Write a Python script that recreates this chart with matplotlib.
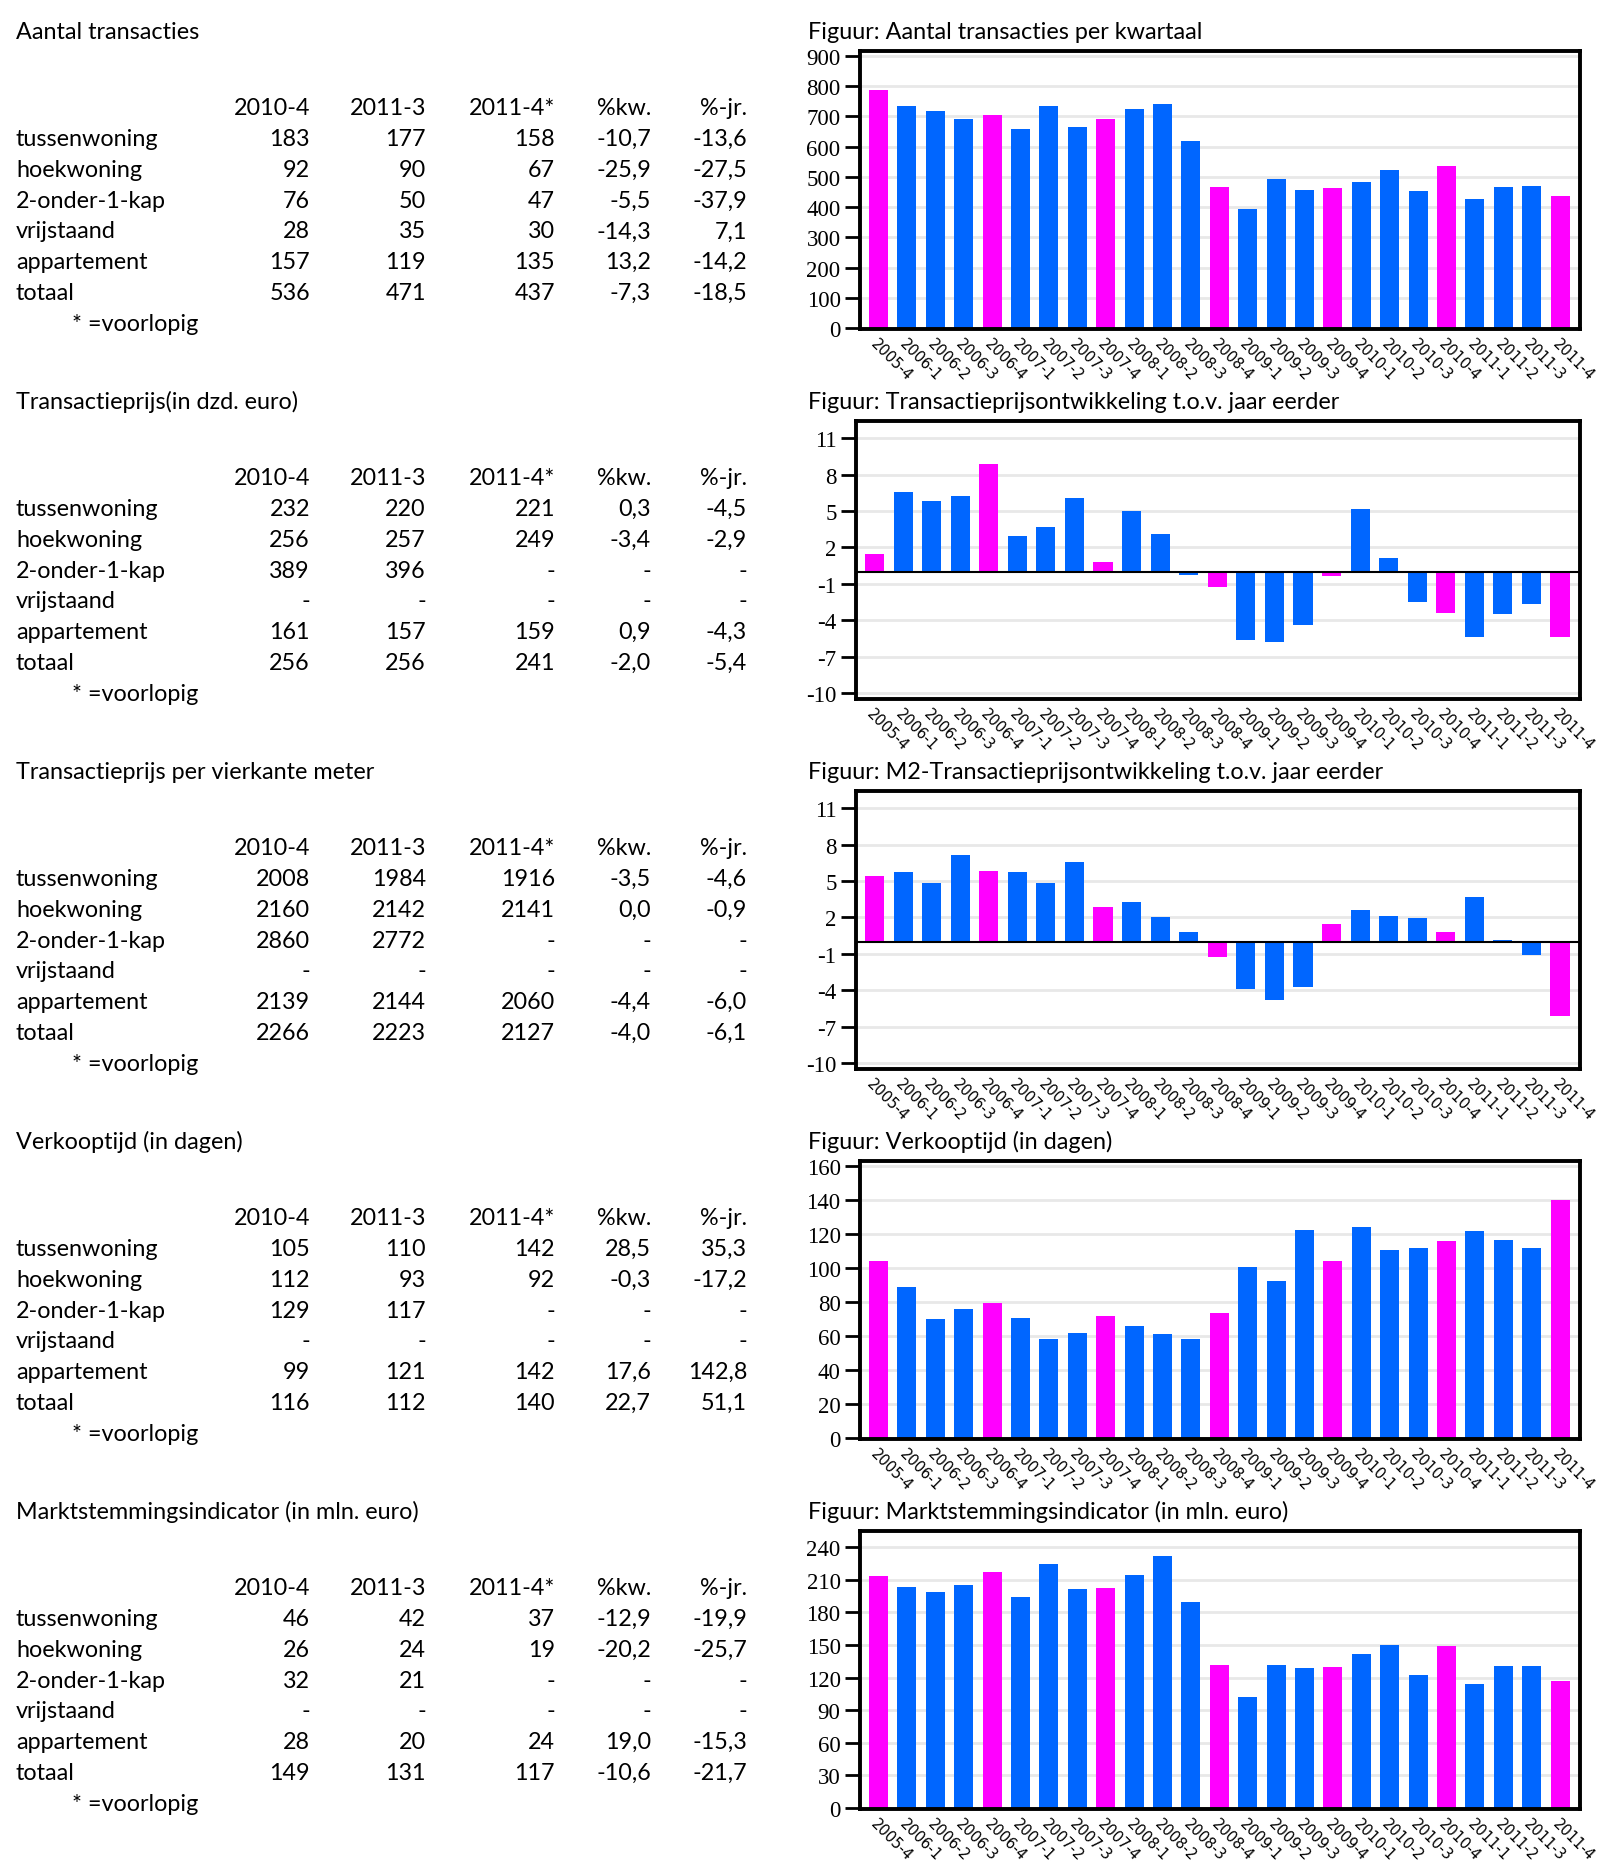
import matplotlib.pyplot as plt
import numpy as np

plt.rcParams['axes.unicode_minus'] = False

# kwartalen op de x-as
quarters = ['2005-4', '2006-1', '2006-2', '2006-3', '2006-4', '2007-1', '2007-2',
            '2007-3', '2007-4', '2008-1', '2008-2', '2008-3', '2008-4', '2009-1',
            '2009-2', '2009-3', '2009-4', '2010-1', '2010-2', '2010-3', '2010-4',
            '2011-1', '2011-2', '2011-3', '2011-4']

transacties = [786, 733, 717, 691, 704, 658, 734, 664, 691, 724, 740, 618, 466,
               393, 492, 456, 463, 482, 522, 453, 536, 426, 466, 471, 437]
prijs_ontw = [1.45, 6.56, 5.82, 6.23, 8.87, 2.94, 3.68, 6.07, 0.80, 5.0, 3.10,
              -0.27, -1.26, -5.63, -5.79, -4.39, -0.36, 5.16, 1.13, -2.50, -3.40,
              -5.38, -3.49, -2.66, -5.4]
m2_ontw = [5.41, 5.74, 4.83, 7.14, 5.82, 5.74, 4.83, 6.56, 2.85, 3.27, 2.03, 0.80,
           -1.26, -3.90, -4.80, -3.73, 1.45, 2.61, 2.11, 1.95, 0.80, 3.68, 0.14,
           -1.10, -6.1]
verkooptijd = [104, 88.7, 69.9, 75.8, 79.3, 70.5, 58.2, 61.7, 71.7, 65.8, 61.1,
               58.2, 73.4, 100.5, 92.2, 122.2, 104, 124, 110.5, 111.6, 116, 121.6,
               116.3, 112, 140]
marktstemming = [213, 203, 198.3, 204.8, 216.7, 193.8, 224, 201.1, 202, 214, 231.4,
                 189.2, 131.3, 101.9, 131.3, 128.6, 129.5, 141.4, 149.7, 122.1, 149,
                 113.9, 130.4, 131, 117]

# tabellen
row_names = ['tussenwoning', 'hoekwoning', '2-onder-1-kap', 'vrijstaand',
             'appartement', 'totaal']
col_names = ['2010-4', '2011-3', '2011-4*', '%kw.', '%-jr.']

tab_aantal = [['183', '177', '158', '-10,7', '-13,6'],
              ['92', '90', '67', '-25,9', '-27,5'],
              ['76', '50', '47', '-5,5', '-37,9'],
              ['28', '35', '30', '-14,3', '7,1'],
              ['157', '119', '135', '13,2', '-14,2'],
              ['536', '471', '437', '-7,3', '-18,5']]
tab_prijs = [['232', '220', '221', '0,3', '-4,5'],
             ['256', '257', '249', '-3,4', '-2,9'],
             ['389', '396', '-', '-', '-'],
             ['-', '-', '-', '-', '-'],
             ['161', '157', '159', '0,9', '-4,3'],
             ['256', '256', '241', '-2,0', '-5,4']]
tab_m2 = [['2008', '1984', '1916', '-3,5', '-4,6'],
          ['2160', '2142', '2141', '0,0', '-0,9'],
          ['2860', '2772', '-', '-', '-'],
          ['-', '-', '-', '-', '-'],
          ['2139', '2144', '2060', '-4,4', '-6,0'],
          ['2266', '2223', '2127', '-4,0', '-6,1']]
tab_verkoop = [['105', '110', '142', '28,5', '35,3'],
               ['112', '93', '92', '-0,3', '-17,2'],
               ['129', '117', '-', '-', '-'],
               ['-', '-', '-', '-', '-'],
               ['99', '121', '142', '17,6', '142,8'],
               ['116', '112', '140', '22,7', '51,1']]
tab_markt = [['46', '42', '37', '-12,9', '-19,9'],
             ['26', '24', '19', '-20,2', '-25,7'],
             ['32', '21', '-', '-', '-'],
             ['-', '-', '-', '-', '-'],
             ['28', '20', '24', '19,0', '-15,3'],
             ['149', '131', '117', '-10,6', '-21,7']]

table_titles = ['Aantal transacties', 'Transactieprijs(in dzd. euro)',
                'Transactieprijs per vierkante meter', 'Verkooptijd (in dagen)',
                'Marktstemmingsindicator (in mln. euro)']
chart_titles = ['Figuur: Aantal transacties per kwartaal',
                'Figuur: Transactieprijsontwikkeling t.o.v. jaar eerder',
                'Figuur: M2-Transactieprijsontwikkeling t.o.v. jaar eerder',
                'Figuur: Verkooptijd (in dagen)',
                'Figuur: Marktstemmingsindicator (in mln. euro)']

BLUE = '#0066ff'
MAGENTA = '#ff00ff'
W, H = 1600, 1874
TXT_FONT = 'Lato'
TXT_SIZE = 16.8

fig = plt.figure(figsize=(W / 100, H / 100), dpi=100)


def px(x, y):
    return x / W, 1 - y / H


def txt(x, y, s, **kw):
    fig.text(*px(x, y), s, family=TXT_FONT, fontsize=TXT_SIZE, va='baseline', **kw)


def draw_table(off, title, data, col_x):
    txt(16, 39 + off, title)
    for c, name in enumerate(col_names):
        txt(col_x[c], 115 + off, name, ha='right')
    for r, name in enumerate(row_names):
        y = 146 + 30.8 * r + off
        txt(16, y, name)
        for c, val in enumerate(data[r]):
            txt(col_x[c], y, val, ha='right')
    txt(72, 331 + off, '* =voorlopig')


def draw_chart(off, left, title, values, yticks, ylim, zero_line=False):
    x0, y0 = px(left, 330 + off)
    ax = fig.add_axes([x0, y0, (1580 - left) / W, 278 / H])
    txt(808, 39 + off, title)
    x = np.arange(len(quarters))
    colors = [MAGENTA if q.endswith('-4') else BLUE for q in quarters]
    ax.bar(x, values, width=0.67, color=colors, zorder=2)
    ax.set_xlim(-0.65, len(quarters) - 0.3)
    ax.set_ylim(*ylim)
    ax.set_yticks(yticks)
    ax.yaxis.grid(True, color='#e8e8e8', linewidth=2)
    ax.set_axisbelow(True)
    if zero_line:
        ax.axhline(0, color='black', lw=1.5, zorder=3)
    ax.set_xticks(x)
    ax.set_xticklabels(quarters, rotation=-45, ha='left', va='top',
                       rotation_mode='anchor', fontsize=10.5, family='DejaVu Sans')
    ax.tick_params(axis='x', length=0, pad=5)
    ax.tick_params(axis='y', length=11, width=2, pad=3, labelsize=16.5)
    for lab in ax.get_yticklabels():
        lab.set_family('Liberation Serif')
    for s in ax.spines.values():
        s.set_linewidth(2.8)
    return ax


col_x = [310, 426, 555, 651, 747]
tables = [tab_aantal, tab_prijs, tab_m2, tab_verkoop, tab_markt]
for i in range(5):
    draw_table(370 * i, table_titles[i], tables[i], col_x)

draw_chart(0, 860, chart_titles[0], transacties, range(0, 901, 100), (-3.3, 916.5))
draw_chart(370, 856, chart_titles[1], prijs_ontw, range(-10, 12, 3), (-10.5, 12.43), True)
draw_chart(740, 856, chart_titles[2], m2_ontw, range(-10, 12, 3), (-10.5, 12.43), True)
draw_chart(1110, 860, chart_titles[3], verkooptijd, range(0, 161, 20), (-0.6, 162.9))
draw_chart(1480, 860, chart_titles[4], marktstemming, range(0, 241, 30), (-0.9, 254.7))

fig.savefig('out.png', dpi=100)
